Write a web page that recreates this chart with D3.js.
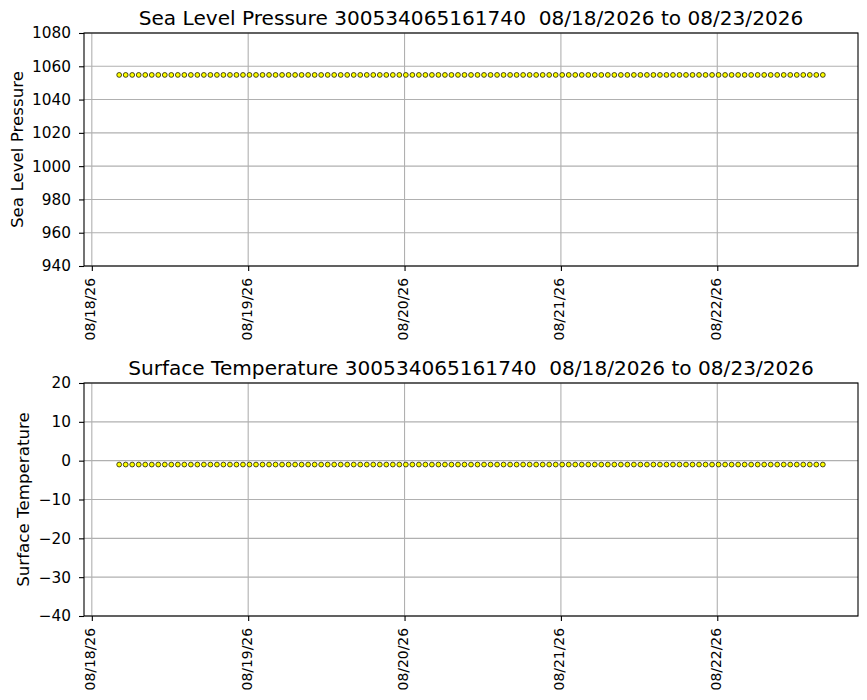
<!DOCTYPE html>
<html>
<head>
<meta charset="utf-8">
<script src="https://cdn.jsdelivr.net/npm/d3@7"></script>
<style>
  body { margin: 0; background: #fff; }
  text { font-family: "DejaVu Sans", sans-serif; fill: #000; white-space: pre; }
</style>
</head>
<body>
<div class="chart"></div>
<script>
var buoyId = "300534065161740";
var dateRange = "08/18/2026 to 08/23/2026";

// hourly fixes, 08/18 04:12 to 08/22 16:12 (UTC)
var times = [
  "2026-08-18T04:12", "2026-08-18T05:12", "2026-08-18T06:12", "2026-08-18T07:12", "2026-08-18T08:12",
  "2026-08-18T09:12", "2026-08-18T10:12", "2026-08-18T11:12", "2026-08-18T12:12", "2026-08-18T13:12",
  "2026-08-18T14:12", "2026-08-18T15:12", "2026-08-18T16:12", "2026-08-18T17:12", "2026-08-18T18:12",
  "2026-08-18T19:12", "2026-08-18T20:12", "2026-08-18T21:12", "2026-08-18T22:12", "2026-08-18T23:12",
  "2026-08-19T00:12", "2026-08-19T01:12", "2026-08-19T02:12", "2026-08-19T03:12", "2026-08-19T04:12",
  "2026-08-19T05:12", "2026-08-19T06:12", "2026-08-19T07:12", "2026-08-19T08:12", "2026-08-19T09:12",
  "2026-08-19T10:12", "2026-08-19T11:12", "2026-08-19T12:12", "2026-08-19T13:12", "2026-08-19T14:12",
  "2026-08-19T15:12", "2026-08-19T16:12", "2026-08-19T17:12", "2026-08-19T18:12", "2026-08-19T19:12",
  "2026-08-19T20:12", "2026-08-19T21:12", "2026-08-19T22:12", "2026-08-19T23:12",
  "2026-08-20T00:12", "2026-08-20T01:12", "2026-08-20T02:12", "2026-08-20T03:12", "2026-08-20T04:12",
  "2026-08-20T05:12", "2026-08-20T06:12", "2026-08-20T07:12", "2026-08-20T08:12", "2026-08-20T09:12",
  "2026-08-20T10:12", "2026-08-20T11:12", "2026-08-20T12:12", "2026-08-20T13:12", "2026-08-20T14:12",
  "2026-08-20T15:12", "2026-08-20T16:12", "2026-08-20T17:12", "2026-08-20T18:12", "2026-08-20T19:12",
  "2026-08-20T20:12", "2026-08-20T21:12", "2026-08-20T22:12", "2026-08-20T23:12",
  "2026-08-21T00:12", "2026-08-21T01:12", "2026-08-21T02:12", "2026-08-21T03:12", "2026-08-21T04:12",
  "2026-08-21T05:12", "2026-08-21T06:12", "2026-08-21T07:12", "2026-08-21T08:12", "2026-08-21T09:12",
  "2026-08-21T10:12", "2026-08-21T11:12", "2026-08-21T12:12", "2026-08-21T13:12", "2026-08-21T14:12",
  "2026-08-21T15:12", "2026-08-21T16:12", "2026-08-21T17:12", "2026-08-21T18:12", "2026-08-21T19:12",
  "2026-08-21T20:12", "2026-08-21T21:12", "2026-08-21T22:12", "2026-08-21T23:12",
  "2026-08-22T00:12", "2026-08-22T01:12", "2026-08-22T02:12", "2026-08-22T03:12", "2026-08-22T04:12",
  "2026-08-22T05:12", "2026-08-22T06:12", "2026-08-22T07:12", "2026-08-22T08:12", "2026-08-22T09:12",
  "2026-08-22T10:12", "2026-08-22T11:12", "2026-08-22T12:12", "2026-08-22T13:12", "2026-08-22T14:12",
  "2026-08-22T15:12", "2026-08-22T16:12"
];

// sensor reads flat the whole period
var pressure = [
  1054.8, 1054.8, 1054.8, 1054.8, 1054.8, 1054.8, 1054.8, 1054.8, 1054.8, 1054.8,
  1054.8, 1054.8, 1054.8, 1054.8, 1054.8, 1054.8, 1054.8, 1054.8, 1054.8, 1054.8,
  1054.8, 1054.8, 1054.8, 1054.8, 1054.8, 1054.8, 1054.8, 1054.8, 1054.8, 1054.8,
  1054.8, 1054.8, 1054.8, 1054.8, 1054.8, 1054.8, 1054.8, 1054.8, 1054.8, 1054.8,
  1054.8, 1054.8, 1054.8, 1054.8, 1054.8, 1054.8, 1054.8, 1054.8, 1054.8, 1054.8,
  1054.8, 1054.8, 1054.8, 1054.8, 1054.8, 1054.8, 1054.8, 1054.8, 1054.8, 1054.8,
  1054.8, 1054.8, 1054.8, 1054.8, 1054.8, 1054.8, 1054.8, 1054.8, 1054.8, 1054.8,
  1054.8, 1054.8, 1054.8, 1054.8, 1054.8, 1054.8, 1054.8, 1054.8, 1054.8, 1054.8,
  1054.8, 1054.8, 1054.8, 1054.8, 1054.8, 1054.8, 1054.8, 1054.8, 1054.8, 1054.8,
  1054.8, 1054.8, 1054.8, 1054.8, 1054.8, 1054.8, 1054.8, 1054.8, 1054.8, 1054.8,
  1054.8, 1054.8, 1054.8, 1054.8, 1054.8, 1054.8, 1054.8, 1054.8, 1054.8
];

var surfaceTemp = [
  -1.0, -1.0, -1.0, -1.0, -1.0, -1.0, -1.0, -1.0, -1.0, -1.0,
  -1.0, -1.0, -1.0, -1.0, -1.0, -1.0, -1.0, -1.0, -1.0, -1.0,
  -1.0, -1.0, -1.0, -1.0, -1.0, -1.0, -1.0, -1.0, -1.0, -1.0,
  -1.0, -1.0, -1.0, -1.0, -1.0, -1.0, -1.0, -1.0, -1.0, -1.0,
  -1.0, -1.0, -1.0, -1.0, -1.0, -1.0, -1.0, -1.0, -1.0, -1.0,
  -1.0, -1.0, -1.0, -1.0, -1.0, -1.0, -1.0, -1.0, -1.0, -1.0,
  -1.0, -1.0, -1.0, -1.0, -1.0, -1.0, -1.0, -1.0, -1.0, -1.0,
  -1.0, -1.0, -1.0, -1.0, -1.0, -1.0, -1.0, -1.0, -1.0, -1.0,
  -1.0, -1.0, -1.0, -1.0, -1.0, -1.0, -1.0, -1.0, -1.0, -1.0,
  -1.0, -1.0, -1.0, -1.0, -1.0, -1.0, -1.0, -1.0, -1.0, -1.0,
  -1.0, -1.0, -1.0, -1.0, -1.0, -1.0, -1.0, -1.0, -1.0
];

var dayTicks = ["2026-08-18", "2026-08-19", "2026-08-20", "2026-08-21", "2026-08-22"];
var pressureTicks = [940, 960, 980, 1000, 1020, 1040, 1060, 1080];
var tempTicks = [-40, -30, -20, -10, 0, 10, 20];

var width = 867, height = 700;
var plotLeft = 84, plotRight = 858, plotH = 233;

var parse = d3.utcParse("%Y-%m-%dT%H:%M");
var parseDay = d3.utcParse("%Y-%m-%d");
var fmt = d3.utcFormat("%m/%d/%y");

var dates = times.map(parse);
// matplotlib style 5% padding around the data
var t0 = d3.min(dates), t1 = d3.max(dates);
var pad = (t1 - t0) * 0.05;

var x = d3.scaleUtc()
    .domain([new Date(+t0 - pad), new Date(+t1 + pad)])
    .range([plotLeft, plotRight]);

var svg = d3.select(".chart").append("svg")
    .attr("width", width)
    .attr("height", height);

function panel(top, values, ticks, label, labelX, title) {
    var y = d3.scaleLinear()
        .domain(d3.extent(ticks))
        .range([top + plotH, top]);

    var g = svg.append("g");

    // grid
    g.append("g").selectAll("line").data(dayTicks.map(parseDay)).enter().append("line")
        .attr("x1", d => x(d)).attr("x2", d => x(d))
        .attr("y1", top).attr("y2", top + plotH)
        .attr("stroke", "#b0b0b0").attr("stroke-width", 1.1);
    g.append("g").selectAll("line").data(ticks).enter().append("line")
        .attr("x1", plotLeft).attr("x2", plotRight)
        .attr("y1", d => y(d)).attr("y2", d => y(d))
        .attr("stroke", "#b0b0b0").attr("stroke-width", 1.1);

    var yAxis = g.append("g")
        .attr("transform", "translate(" + plotLeft + ",0)")
        .call(d3.axisLeft(y).tickValues(ticks).tickSize(5).tickPadding(8)
            .tickFormat(d => d < 0 ? "\u2212" + Math.abs(d) : d));
    yAxis.select(".domain").remove();
    yAxis.selectAll("line").attr("stroke-width", 1.1);
    yAxis.selectAll("text").attr("font-size", "15.3px").attr("font-family", "DejaVu Sans");

    var xAxis = g.append("g")
        .attr("transform", "translate(0," + (top + plotH) + ")")
        .call(d3.axisBottom(x).tickValues(dayTicks.map(parseDay)).tickSize(5).tickFormat(fmt));
    xAxis.select(".domain").remove();
    xAxis.selectAll("line").attr("stroke-width", 1.1);
    xAxis.selectAll("text")
        .attr("font-size", "13.9px").attr("font-family", "DejaVu Sans")
        .attr("y", 0).attr("dy", null)
        .attr("text-anchor", "end")
        .attr("dominant-baseline", "central")
        .attr("transform", "translate(-2,12) rotate(-90)");

    // points
    g.append("g").selectAll("circle").data(values).enter().append("circle")
        .attr("cx", (d, i) => x(dates[i]))
        .attr("cy", d => y(d))
        .attr("r", 2.4)
        .attr("fill", "#ffff00")
        .attr("stroke", "#1a1a00")
        .attr("stroke-width", 0.8);

    // frame
    g.append("rect")
        .attr("x", plotLeft).attr("y", top)
        .attr("width", plotRight - plotLeft).attr("height", plotH)
        .attr("fill", "none").attr("stroke", "#000").attr("stroke-width", 1.1);

    g.append("text")
        .attr("x", (plotLeft + plotRight) / 2).attr("y", top - 8)
        .attr("text-anchor", "middle")
        .attr("font-size", "20.1px")
        .text(title);

    g.append("text")
        .attr("transform", "translate(" + labelX + "," + (top + plotH / 2) + ") rotate(-90)")
        .attr("text-anchor", "middle")
        .attr("dominant-baseline", "central")
        .attr("font-size", "16.7px")
        .text(label);
}

panel(33, pressure, pressureTicks, "Sea Level Pressure", 17,
    "Sea Level Pressure " + buoyId + "  " + dateRange);
panel(383, surfaceTemp, tempTicks, "Surface Temperature", 23,
    "Surface Temperature " + buoyId + "  " + dateRange);
</script>
</body>
</html>
